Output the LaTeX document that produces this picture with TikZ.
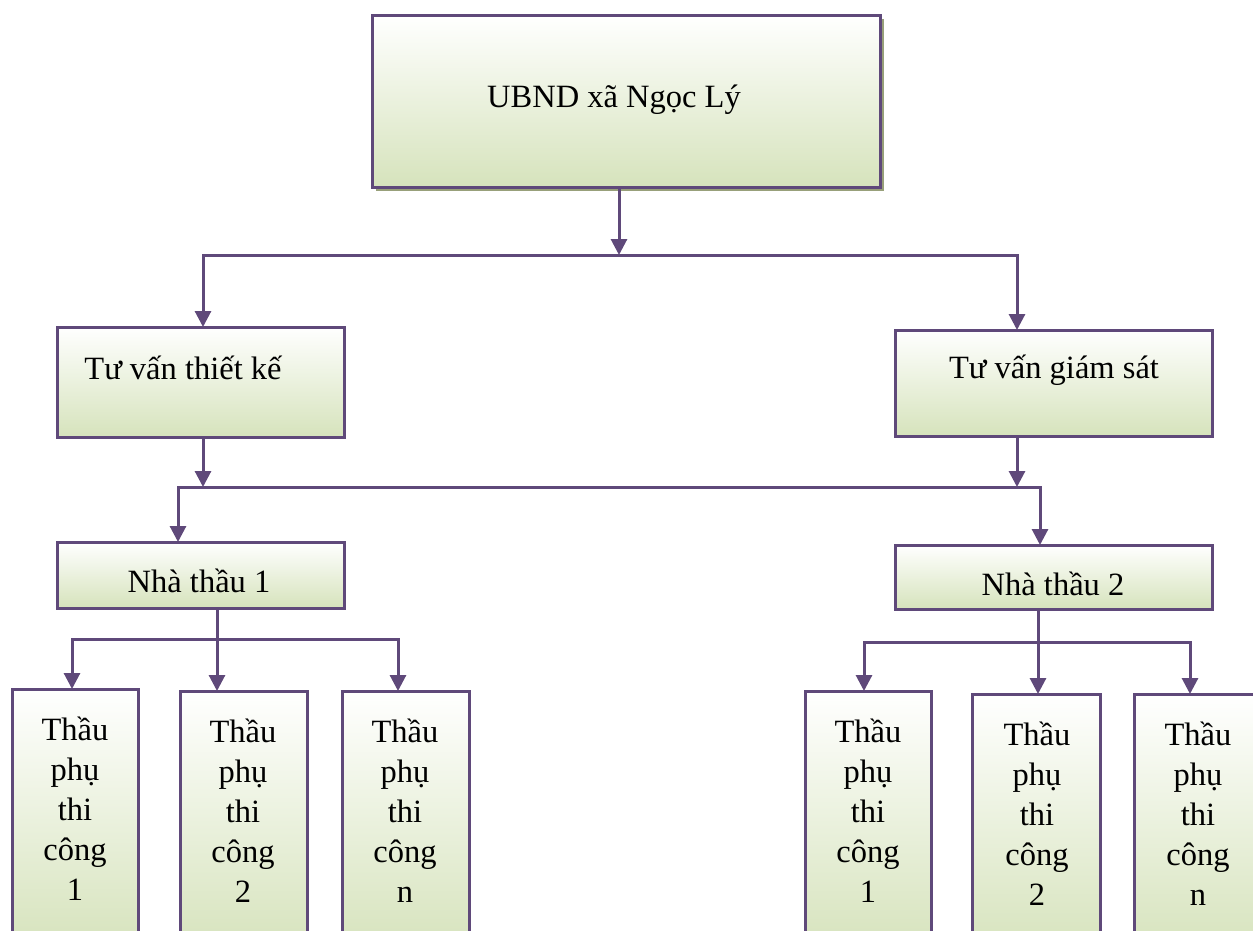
\documentclass[tikz,border=0pt]{standalone}
\usepackage{fontspec}
\setmainfont{Liberation Serif}
\usetikzlibrary{arrows.meta,shadows}
\definecolor{boxline}{RGB}{95,73,122}
\definecolor{boxgreen}{RGB}{214,227,188}
\definecolor{shadowc}{RGB}{152,160,122}
\begin{document}
\begin{tikzpicture}[x=1pt,y=-1pt,
  box/.style={draw=boxline, line width=3pt, top color=white, bottom color=boxgreen, anchor=north west, inner sep=0pt, outer sep=0pt},
  lbl/.style={font=\fontsize{32.5}{40}\selectfont, inner sep=0pt, align=center},
  conn/.style={draw=boxline, line width=3pt},
  arr/.style={conn, -{Triangle[length=16pt,width=16pt]}}]
\useasboundingbox (0,0) rectangle (1253,930);
\clip (0,0) rectangle (1253,930);
% boxes
\node[box, minimum width=508pt, minimum height=172pt,
  drop shadow={shadow xshift=4pt, shadow yshift=-4pt, fill=shadowc, opacity=1}] (top) at (372,15) {};
\node[box, minimum width=287pt, minimum height=110pt] (tvtk) at (57,327) {};
\node[box, minimum width=317pt, minimum height=106pt] (tvgs) at (895,330) {};
\node[box, minimum width=287pt, minimum height=66pt] (nt1) at (57,542) {};
\node[box, minimum width=317pt, minimum height=64pt] (nt2) at (895,545) {};
\node[box, minimum width=126pt, minimum height=260pt] (s11) at (12,689) {};
\node[box, minimum width=127pt, minimum height=260pt] (s12) at (180,691) {};
\node[box, minimum width=127pt, minimum height=260pt] (s13) at (342,691) {};
\node[box, minimum width=126pt, minimum height=260pt] (s21) at (805,691) {};
\node[box, minimum width=128pt, minimum height=260pt] (s22) at (972,694) {};
\node[box, minimum width=130pt, minimum height=260pt] (s23) at (1134,694) {};
% texts
\node[lbl] (t0) at (614,100) {UBND xã Ngọc Lý};
\node[lbl] (t1) at (183,368) {Tư vấn thiết kế};
\node[lbl] (t2) at (1054,370) {Tư vấn giám sát};
\node[lbl] (t3) at (199,581) {Nhà thầu 1};
\node[lbl] (t4) at (1053,584) {Nhà thầu 2};
\node[lbl, anchor=north] (u11) at (75,717) {Thầu\\phụ\\thi\\công\\1};
\node[lbl, anchor=north] (u12) at (243,719) {Thầu\\phụ\\thi\\công\\2};
\node[lbl, anchor=north] (u13) at (405,719) {Thầu\\phụ\\thi\\công\\n};
\node[lbl, anchor=north] (u21) at (868,719) {Thầu\\phụ\\thi\\công\\1};
\node[lbl, anchor=north] (u22) at (1037,722) {Thầu\\phụ\\thi\\công\\2};
\node[lbl, anchor=north] (u23) at (1198,722) {Thầu\\phụ\\thi\\công\\n};
% bus coordinates
\coordinate (b1) at (619,255);
\coordinate (b1l) at (203,255);
\coordinate (b1r) at (1017,255);
\coordinate (a1) at (203,487);
\coordinate (a2) at (1017,487);
\coordinate (b2l) at (178,487);
\coordinate (b2r) at (1040,487);
\coordinate (c1) at (72,639);
\coordinate (c2) at (217,639);
\coordinate (c3) at (398,639);
\coordinate (d1) at (864,642);
\coordinate (d2) at (1038,642);
\coordinate (d3) at (1190,642);
% connectors
\draw[arr] (b1 |- top.south) -- (b1);
\draw[arr] (b1) -- (b1l) -- (b1l |- tvtk.north);
\draw[arr] (b1) -- (b1r) -- (b1r |- tvgs.north);
\draw[arr] (a1 |- tvtk.south) -- (a1);
\draw[arr] (a2 |- tvgs.south) -- (a2);
\draw[arr] (a1) -- (b2l) -- (b2l |- nt1.north);
\draw[arr] (a1) -- (b2r) -- (b2r |- nt2.north);
\draw[arr] (c2 |- nt1.south) -- (c2 |- s12.north);
\draw[arr] (c2) -- (c1) -- (c1 |- s11.north);
\draw[arr] (c2) -- (c3) -- (c3 |- s13.north);
\draw[arr] (d2 |- nt2.south) -- (d2 |- s22.north);
\draw[arr] (d2) -- (d1) -- (d1 |- s21.north);
\draw[arr] (d2) -- (d3) -- (d3 |- s23.north);
\end{tikzpicture}
\end{document}
